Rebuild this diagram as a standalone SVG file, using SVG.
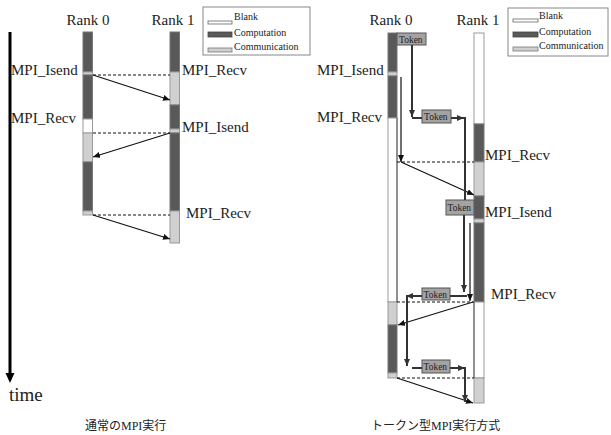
<svg xmlns="http://www.w3.org/2000/svg" width="611" height="435" viewBox="0 0 611 435">
<style>
.lbl{font-family:"Liberation Serif","Times New Roman",serif;font-size:15px;fill:#222}
.rank{font-family:"Liberation Serif","Times New Roman",serif;font-size:15px;fill:#222;text-anchor:middle}
.leg{font-family:"Liberation Serif","Times New Roman",serif;font-size:10px;fill:#222}
.tok{font-family:"Liberation Serif","Times New Roman",serif;font-size:9.5px;fill:#222}
.cap{font-family:"Liberation Serif","Noto Sans CJK JP",serif;font-size:12px;fill:#222}
.dk{fill:#595959;stroke:#777;stroke-width:1}
.lt{fill:#d0d0d0;stroke:#999;stroke-width:1}
.wh{fill:#fff;stroke:#999;stroke-width:1}
.tb{fill:#a3a3a3;stroke:#555;stroke-width:1}
.dash{stroke:#111;stroke-width:1.2;stroke-dasharray:3,2;fill:none}
.msg{stroke:#111;stroke-width:1.2;fill:none;marker-end:url(#ah)}
.tp{stroke:#333;stroke-width:2;fill:none}
.tpa{stroke:#333;stroke-width:2;fill:none;marker-end:url(#ah2)}
</style>
<defs>
<marker id="ah" markerUnits="userSpaceOnUse" markerWidth="8" markerHeight="6" refX="7" refY="3" orient="auto"><path d="M0,0 L7,3 L0,6 z" fill="#111"/></marker>
<marker id="ah2" markerUnits="userSpaceOnUse" markerWidth="8" markerHeight="6" refX="7" refY="3" orient="auto"><path d="M0,0 L7,3 L0,6 z" fill="#333"/></marker>
</defs>
<rect width="611" height="435" fill="#fff"/>

<g id="time-axis">
<line x1="10" y1="32" x2="10" y2="376" stroke="#000" stroke-width="3"/>
<path d="M5.5,373 L14.5,373 L10,383 z" fill="#000"/>
<text x="9" y="401" class="lbl" style="font-size:19px">time</text>
</g>

<!-- Left panel -->
<g id="left-rank0">
<text x="88" y="25" class="rank">Rank 0</text>
<rect x="83" y="32" width="9.5" height="40" class="dk"/>
<rect x="83" y="72" width="9.5" height="3" class="lt"/>
<rect x="83" y="75" width="9.5" height="44" class="dk"/>
<rect x="83" y="119" width="9.5" height="14" class="wh"/>
<rect x="83" y="133" width="9.5" height="29" class="lt"/>
<rect x="83" y="162" width="9.5" height="49" class="dk"/>
<rect x="83" y="211" width="9.5" height="4" class="lt"/>
<text x="11" y="75" class="lbl">MPI_Isend</text>
<text x="11" y="123" class="lbl">MPI_Recv</text>
</g>
<g id="left-rank1">
<text x="173" y="25" class="rank">Rank 1</text>
<rect x="170" y="32" width="9.5" height="40" class="dk"/>
<rect x="170" y="72" width="9.5" height="33" class="lt"/>
<rect x="170" y="105" width="9.5" height="24" class="dk"/>
<rect x="170" y="129" width="9.5" height="4" class="lt"/>
<rect x="170" y="133" width="9.5" height="78" class="dk"/>
<rect x="170" y="211" width="9.5" height="32" class="lt"/>
<text x="182" y="75" class="lbl">MPI_Recv</text>
<text x="182" y="132" class="lbl">MPI_Isend</text>
<text x="186" y="218" class="lbl">MPI_Recv</text>
</g>
<g id="left-legend">
<rect x="203" y="7" width="107" height="48" fill="#fff" stroke="#888" stroke-width="1"/>
<rect x="208" y="21" width="24" height="3" fill="#fff" stroke="#666" stroke-width="0.8"/>
<rect x="208" y="32" width="24" height="5" fill="#595959" stroke="#444" stroke-width="0.8"/>
<rect x="208" y="48" width="24" height="4" fill="#d0d0d0" stroke="#777" stroke-width="0.8"/>
<text x="234" y="20" class="leg">Blank</text>
<text x="234" y="36" class="leg">Computation</text>
<text x="234" y="50" class="leg">Communication</text>
</g>
<text x="85" y="430" class="cap">通常のMPI実行</text>

<!-- Right panel -->
<g id="right-rank0">
<text x="391" y="25" class="rank">Rank 0</text>
<rect x="388" y="33" width="9" height="39" class="dk"/>
<rect x="388" y="72" width="9" height="4" class="lt"/>
<rect x="388" y="76" width="9" height="42" class="dk"/>
<rect x="388" y="118" width="9" height="184" class="wh"/>
<rect x="388" y="302" width="9" height="23" class="lt"/>
<rect x="388" y="325" width="9" height="48" class="dk"/>
<rect x="388" y="373" width="9" height="5" class="lt"/>
<line x1="397" y1="118" x2="397" y2="302" stroke="#555" stroke-width="1"/>
<text x="317" y="75" class="lbl">MPI_Isend</text>
<text x="317" y="122" class="lbl">MPI_Recv</text>
</g>
<g id="right-rank1">
<text x="478" y="25" class="rank">Rank 1</text>
<rect x="474" y="33" width="10" height="91" class="wh"/>
<rect x="474" y="124" width="10" height="38" class="dk"/>
<rect x="474" y="162" width="10" height="34" class="lt"/>
<rect x="474" y="196" width="10" height="23" class="dk"/>
<rect x="474" y="219" width="10" height="4" class="lt"/>
<rect x="474" y="223" width="10" height="79" class="dk"/>
<rect x="474" y="302" width="10" height="76" class="wh"/>
<rect x="474" y="378" width="10" height="25" class="lt"/>
<line x1="474" y1="302" x2="474" y2="378" stroke="#555" stroke-width="1"/>
<text x="485" y="160" class="lbl">MPI_Recv</text>
<text x="485" y="217" class="lbl">MPI_Isend</text>
<text x="491" y="299" class="lbl">MPI_Recv</text>
</g>
<g id="right-legend">
<rect x="508" y="8" width="100" height="48" fill="#fff" stroke="#888" stroke-width="1"/>
<rect x="513" y="19" width="25" height="3" fill="#fff" stroke="#666" stroke-width="0.8"/>
<rect x="513" y="32" width="25" height="5" fill="#595959" stroke="#444" stroke-width="0.8"/>
<rect x="513" y="47" width="25" height="4" fill="#d0d0d0" stroke="#777" stroke-width="0.8"/>
<text x="539" y="19" class="leg">Blank</text>
<text x="539" y="35" class="leg">Computation</text>
<text x="539" y="49" class="leg">Communication</text>
</g>
<g id="token1"><rect x="397" y="33" width="29" height="12" class="tb"/><text x="399" y="42.5" class="tok">Token</text></g>
<g id="token2"><rect x="422" y="110" width="29" height="13" class="tb"/><text x="424" y="120" class="tok">Token</text></g>
<g id="token3"><rect x="446" y="200" width="28" height="15" class="tb"/><text x="447.5" y="211" class="tok">Token</text></g>
<g id="token4"><rect x="422" y="288" width="28" height="12" class="tb"/><text x="423.5" y="297.5" class="tok">Token</text></g>
<g id="token5"><rect x="422" y="360" width="28" height="13" class="tb"/><text x="423.5" y="370" class="tok">Token</text></g>
<text x="371" y="430" class="cap">トークン型MPI実行方式</text>

<g id="connectors">
<!-- left panel -->
<line x1="93" y1="75" x2="170" y2="75" class="dash"/>
<line x1="93" y1="133" x2="170" y2="133" class="dash"/>
<line x1="93" y1="215" x2="170" y2="215" class="dash"/>
<line x1="93" y1="75" x2="170" y2="100" class="msg"/>
<line x1="170" y1="133" x2="93" y2="157" class="msg"/>
<line x1="93" y1="215" x2="170" y2="239" class="msg"/>
<!-- right panel -->
<line x1="397" y1="162" x2="474" y2="162" class="dash"/>
<line x1="397" y1="302" x2="474" y2="302" class="dash"/>
<line x1="397" y1="378" x2="474" y2="378" class="dash"/>
<line x1="401" y1="77" x2="401" y2="162" class="msg"/>
<line x1="401" y1="162" x2="474" y2="195" class="msg"/>
<line x1="470" y1="223" x2="470" y2="301" class="msg"/>
<line x1="473" y1="302" x2="398" y2="325" class="msg"/>
<line x1="397" y1="378" x2="473" y2="403" class="msg"/>
<!-- token path -->
<line x1="412" y1="45" x2="412" y2="117" class="tpa"/>
<line x1="412" y1="118" x2="422" y2="118" class="tp"/>
<line x1="451" y1="118" x2="464" y2="118" class="tpa"/>
<line x1="465" y1="117" x2="465" y2="200" class="tp"/>
<line x1="464" y1="215" x2="464" y2="292" class="tpa"/>
<line x1="450" y1="296" x2="467" y2="296" class="tp"/>
<line x1="422" y1="296" x2="406" y2="296" class="tpa"/>
<line x1="407" y1="296" x2="407" y2="366" class="tpa"/>
<line x1="412" y1="368" x2="422" y2="368" class="tp"/>
<line x1="450" y1="368" x2="465" y2="368" class="tpa"/>
<line x1="465" y1="367" x2="465" y2="402" class="tpa"/>
</g>
</svg>
